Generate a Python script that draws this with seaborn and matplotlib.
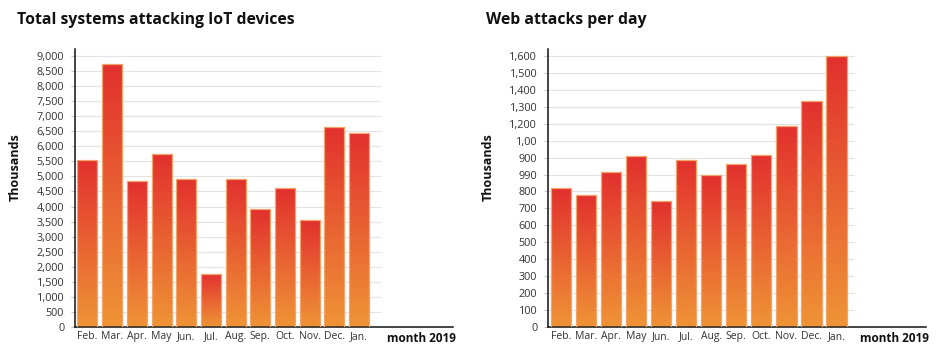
import numpy as np
import matplotlib
matplotlib.use("Agg")
import matplotlib.pyplot as plt
import seaborn as sns
from matplotlib.colors import LinearSegmentedColormap

# ---- data -------------------------------------------------------------
months = ["Feb.", "Mar.", "Apr.", "May", "Jun.", "Jul.",
          "Aug.", "Sep.", "Oct.", "Nov.", "Dec.", "Jan."]
iot_systems = [5550, 8750, 4840, 5760, 4920, 1770,
               4920, 3910, 4600, 3540, 6650, 6450]
web_attacks = [822, 777, 913, 1008, 745, 988,
               899, 964, 1016, 1185, 1337, 1600]

iot_ticks = list(range(0, 9001, 500))
iot_tick_labels = ["0", "500", "1,000", "1,500", "2,000", "2,500", "3,000",
                   "3,500", "4,000", "4,500", "5,000", "5,500", "6,000",
                   "6,500", "7,000", "7,500", "8,000", "8,500", "9,000"]
web_ticks = list(range(0, 1601, 100))
web_tick_labels = ["0", "100", "200", "300", "400", "500", "600", "700",
                   "800", "990", "900", "1,00", "1,200", "1,300", "1,400",
                   "1,500", "1,600"]

# ---- style ------------------------------------------------------------
sns.set_theme(style="white")
plt.rcParams["font.family"] = ["Open Sans", "DejaVu Sans"]

bar_cmap = LinearSegmentedColormap.from_list("bar", ["#ef9436", "#e2302e"])
gradient = np.linspace(0, 1, 256).reshape(-1, 1)

fig = plt.figure(figsize=(9.5, 3.5), dpi=100)


def draw_panel(rect, values, ticks, tick_labels, ymax, x_min, grid_end, x_max,
               title, title_x):
    ax = fig.add_axes(rect)
    sns.barplot(x=months, y=values, ax=ax, color="#e2302e", saturation=1,
                width=0.81, zorder=2)
    # shade each bar from orange at the base to red at the top
    for patch in ax.patches:
        x0, w, h = patch.get_x(), patch.get_width(), patch.get_height()
        patch.set_facecolor("none")
        patch.set_edgecolor("#f3a46a")
        patch.set_linewidth(0.9)
        patch.set_zorder(3)
        im = ax.imshow(gradient, extent=[x0, x0 + w, 0, h], origin="lower",
                       aspect="auto", cmap=bar_cmap, zorder=2.5,
                       interpolation="bilinear")
        im.set_clip_path(patch)
    ax.hlines(ticks[1:], x_min, grid_end, color="#e4e4e4", lw=0.9, zorder=0)
    ax.set_xlim(x_min, x_max)
    ax.set_ylim(0, ymax)
    ax.set_aspect("auto")
    ax.set_yticks(ticks)
    ax.set_yticklabels(tick_labels)
    ax.tick_params(axis="y", length=3, width=0.8, color="#c8c8c8", pad=5,
                   labelsize=7.8, labelcolor="#333333", left=True)
    ax.tick_params(axis="x", length=0, pad=3, labelsize=7.5,
                   labelcolor="#333333")
    for s in ("top", "right"):
        ax.spines[s].set_visible(False)
    for s in ("left", "bottom"):
        ax.spines[s].set_color("#111111")
        ax.spines[s].set_linewidth(1.1)
    ax.set_xlabel("")
    ax.set_ylabel("Thousands", fontsize=9, fontweight="bold", color="#111111")
    ax.yaxis.set_label_coords(-0.141, 0.575)
    ax.text(1.008, -0.043, "month 2019", transform=ax.transAxes, ha="right",
            va="center", fontsize=8.5, fontweight="bold", color="#111111")
    fig.text(title_x, 1 - 20 / 350, title, ha="left", va="center",
             fontsize=11.3, fontweight="bold", color="#111111")
    return ax


draw_panel([75.3 / 950, 23 / 350, 377.7 / 950, 278 / 350],
           iot_systems, iot_ticks, iot_tick_labels, 9232,
           -0.49, 11.9, 14.8,
           "Total systems attacking IoT devices", 17 / 950)
draw_panel([548.3 / 950, 23.3 / 350, 377.7 / 950, 277.4 / 350],
           web_attacks, web_ticks, web_tick_labels, 1641,
           -0.5, 11.7, 14.57,
           "Web attacks per day", 486 / 950)

fig.savefig("out.png", dpi=100)
